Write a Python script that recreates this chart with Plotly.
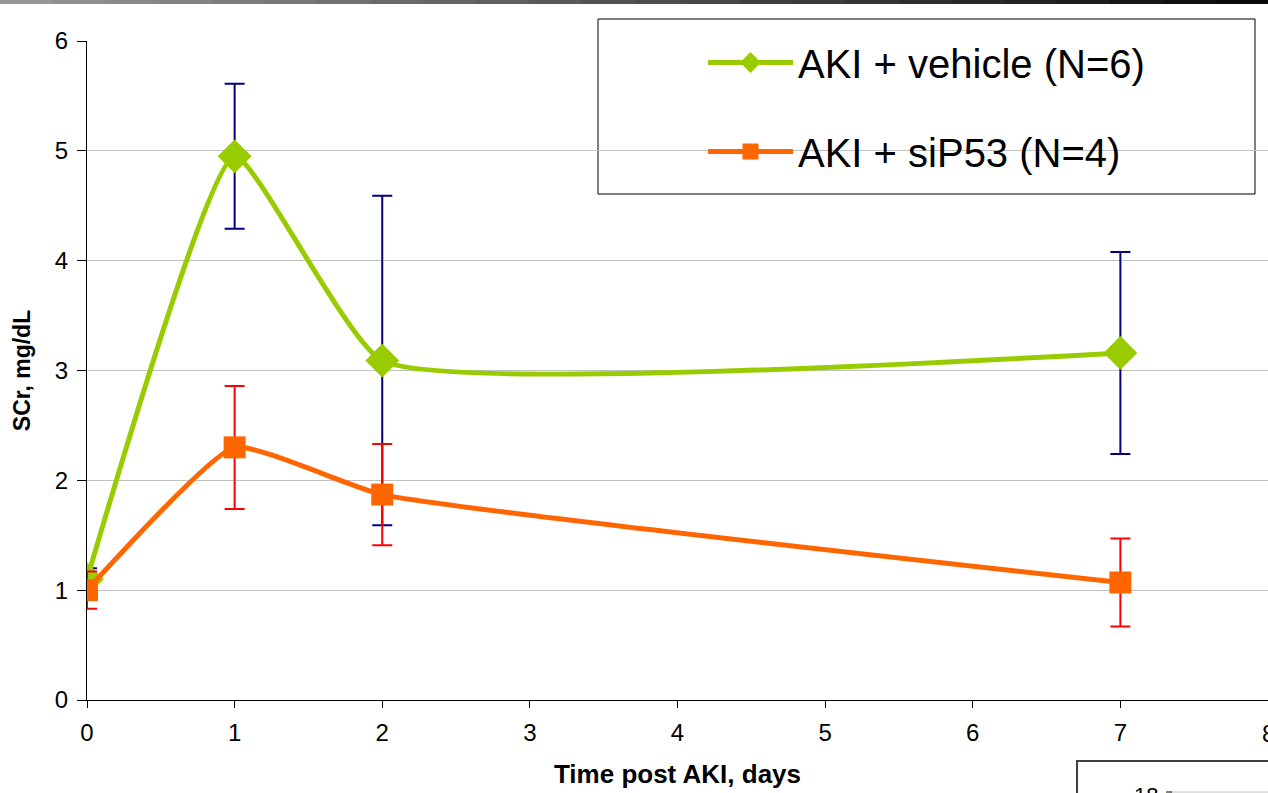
import plotly.graph_objects as go

days = [0, 1, 2, 7]
vehicle = [1.10, 4.95, 3.09, 3.16]
vehicle_err = [0.10, 0.66, 1.50, 0.92]
sip53 = [1.00, 2.30, 1.87, 1.07]
sip53_err = [0.17, 0.56, 0.46, 0.40]
x_ticks = [0, 1, 2, 3, 4, 5, 6, 7, 8]
y_ticks = [0, 1, 2, 3, 4, 5, 6]

W, H = 1268, 793
L, R, T, B = 87, 0, 41, 93
PW, PH = W - L - R, H - T - B

def px(x):
    return (x - L) / PW

def py(y):
    return (H - B - y) / PH

fig = go.Figure()
fig.add_trace(go.Scatter(
    x=days, y=vehicle, name="AKI + vehicle (N=6)", mode="lines+markers",
    line=dict(color="#99CC00", width=5, shape="spline", smoothing=0.42),
    marker=dict(symbol="diamond", size=26, color="#99CC00"),
    error_y=dict(type="data", array=vehicle_err, color="#000080", thickness=2, width=10),
    legendgroup="a",
))
fig.add_trace(go.Scatter(
    x=days, y=sip53, name="AKI + siP53 (N=4)", mode="lines+markers",
    line=dict(color="#FF6600", width=5, shape="spline", smoothing=0.42),
    marker=dict(symbol="square", size=22, color="#FF6600"),
    error_y=dict(type="data", array=sip53_err, color="#FF0000", thickness=2, width=10),
    legendgroup="b",
))

shapes = [
    dict(type="rect", xref="paper", yref="paper", x0=px(598), x1=px(1255), y0=py(194), y1=py(19),
         line=dict(color="black", width=1), fillcolor="white", layer="below"),
    dict(type="rect", xref="paper", yref="paper", x0=px(1077), x1=px(1300), y0=py(800), y1=py(761),
         line=dict(color="#404040", width=2), fillcolor="white"),
    dict(type="line", xref="paper", yref="paper", x0=px(1170), x1=px(1268), y0=py(792), y1=py(792),
         line=dict(color="#C0C0C0", width=1)),
    dict(type="line", xref="paper", yref="paper", x0=px(1166), x1=px(1172), y0=py(792), y1=py(792),
         line=dict(color="black", width=1)),
]
# top gradient bar
n = 24
for i in range(n):
    g = int(150 - 140 * i / (n - 1))
    shapes.append(dict(type="rect", xref="paper", yref="paper",
                       x0=px(i * W / n), x1=px((i + 1) * W / n + 1), y0=py(4), y1=py(0),
                       line=dict(width=0), fillcolor=f"rgb({g},{g},{g})"))

fig.update_layout(
    width=W, height=H,
    margin=dict(l=L, r=R, t=T, b=B),
    paper_bgcolor="white", plot_bgcolor="white",
    font=dict(family="Liberation Sans, Arial, sans-serif", color="black"),
    showlegend=True,
    legend=dict(x=px(703), y=py(30), xanchor="left", yanchor="top",
                font=dict(size=40), itemwidth=85, tracegroupgap=34,
                bgcolor="rgba(0,0,0,0)", borderwidth=0),
    shapes=shapes,
    annotations=[
        dict(text="18", xref="paper", yref="paper", x=px(1146), y=py(781),
             xanchor="center", yanchor="top", showarrow=False, font=dict(size=22)),
        dict(text=str(x_ticks[-1]), xref="x", yref="paper", x=x_ticks[-1], y=py(733),
             xanchor="center", yanchor="middle", showarrow=False, font=dict(size=24)),
    ],
    xaxis=dict(range=[0, 8], tickvals=x_ticks, showgrid=False, zeroline=False,
               showline=True, linecolor="black", linewidth=1,
               ticks="outside", ticklen=7, tickcolor="black", tickfont=dict(size=24),
               ticklabelstandoff=4,
               title=dict(text="<b>Time post AKI, days</b>", font=dict(size=26), standoff=20)),
    yaxis=dict(range=[0, 6], tickvals=y_ticks, showgrid=True, gridcolor="#C0C0C0", gridwidth=1,
               zeroline=False, showline=True, linecolor="black", linewidth=1,
               ticks="outside", ticklen=9, tickcolor="black", tickfont=dict(size=24),
               ticklabelstandoff=4,
               title=dict(text="<b>SCr, mg/dL</b>", font=dict(size=23), standoff=17)),
)

fig.write_html("out.html", config={"displayModeBar": False},
               post_script="document.body.style.margin='0px';")
